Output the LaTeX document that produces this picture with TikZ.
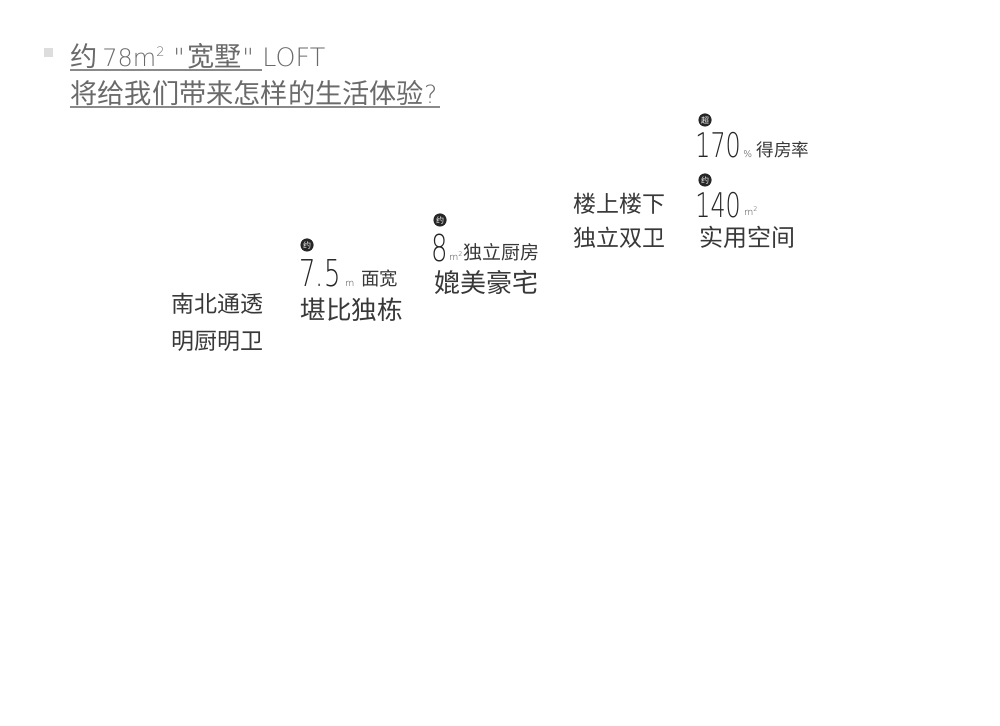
\documentclass[tikz,border=0pt]{standalone}
\usepackage{fontspec}
\setmainfont{Noto Sans CJK SC}
\newfontfamily\cjk{Noto Sans CJK SC}
\newfontfamily\thin{DejaVu Sans ExtraLight}
\newfontfamily\thinn[FakeStretch=0.7]{DejaVu Sans ExtraLight}
\usepackage{tikz}
\usetikzlibrary{positioning}

\definecolor{titlegray}{HTML}{6A6A6A}
\definecolor{linegray}{HTML}{8A8A8A}
\definecolor{bodyblack}{HTML}{383838}
\definecolor{bulletgray}{HTML}{DDDDDD}

\newcommand{\fs}[1]{\fontsize{#1}{#1}\selectfont}

\tikzset{
  txt/.style={anchor=base west, inner sep=0pt, text=bodyblack},
  ttl/.style={txt, text=titlegray},
  badge/.style={circle, fill=black!85, text=white, inner sep=0pt,
    minimum size=6.6pt, font=\cjk\fs{4}},
  bignum/.style={txt, text=black!85, font=\thinn\fs{18.5}},
  midnum/.style={txt, text=black!85, font=\thinn\fs{17}},
  unit/.style={txt, font=\thin\fs{4.6}},
  uline/.style={linegray, line width=0.6pt}
}

\begin{document}
\begin{tikzpicture}[x=0.5pt, y=-0.5pt]
\useasboundingbox (0,0) rectangle (1000,726);

% title
\fill[bulletgray] (44,48) rectangle (53,57);
\draw (70,67) node[ttl, font=\cjk\fs{13.6}] (yue) {约};
\draw (102,67) node[ttl, font=\thin\fs{12}] (area) {78m};
\draw (156,57) node[ttl, font=\thin\fs{6.5}] (sq) {2};
\draw (173,67) node[ttl, font=\thin\fs{12.5}] (qa) {"};
\draw (187,67) node[ttl, font=\cjk\fs{13.6}] (kuanshu) {宽墅};
\draw (242,67) node[ttl, font=\thin\fs{12.5}] (qb) {"};
\draw (262,67) node[ttl, font=\thin\fs{12.7}] (loft) {LOFT};
\draw (70,104) node[ttl, font=\cjk\fs{13.6}] (title2)
  {将给我们带来怎样的生活体验{\thin\fs{12.5}?}};
\coordinate (u1a) at (70,70);
\coordinate (u1b) at (262,70);
\coordinate (u2a) at (70,107);
\coordinate (u2b) at (440,107);
\draw[uline] (u1a) -- (u1b);
\draw[uline] (u2a) -- (u2b);

% column 1
\draw (171,313) node[txt, font=\cjk\fs{11.5}] (nanbei) {南北通透};
\draw (171,350) node[txt, font=\cjk\fs{11.5}] (mingchu) {明厨明卫};

% column 2
\draw (307,245) node[badge] (b1) {约};
\draw (299,287) node[bignum] (n75) {7.5};
\draw (345,287) node[unit] (u75) {m};
\draw (361,286) node[txt, font=\cjk\fs{9.2}] (mian) {面宽};
\draw (300,320) node[txt, font=\cjk\fs{12.8}] (kanbi) {堪比独栋};

% column 3
\draw (440,220) node[badge] (b2) {约};
\draw (431,262) node[bignum] (n8) {8};
\draw (449,261) node[unit] (u8) {m\textsuperscript{2}};
\draw (463,260) node[txt, font=\cjk\fs{9.5}] (chufang) {独立厨房};
\draw (434,293) node[txt, font=\cjk\fs{13}] (pimei) {媲美豪宅};

% column 4
\draw (573,213) node[txt, font=\cjk\fs{11.5}] (loushang) {楼上楼下};
\draw (573,247) node[txt, font=\cjk\fs{11.5}] (shuangwei) {独立双卫};

% column 5
\draw (705,120) node[badge] (b3) {超};
\draw (695,158) node[midnum] (n170) {170};
\draw (743,158) node[unit] (u170) {\%};
\draw (756,157) node[txt, font=\cjk\fs{8.8}] (defang) {得房率};
\draw (705,180) node[badge] (b4) {约};
\draw (695,218) node[midnum] (n140) {140};
\draw (744,216) node[unit] (u140) {m\textsuperscript{2}};
\draw (699,247) node[txt, font=\cjk\fs{12}] (shiyong) {实用空间};
\end{tikzpicture}
\end{document}
